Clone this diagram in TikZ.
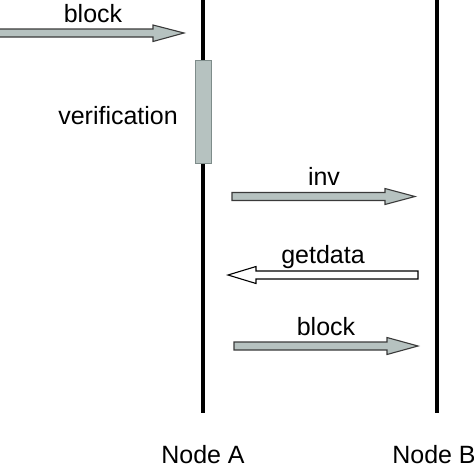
\documentclass[tikz,border=0pt]{standalone}
\usepackage{fontspec}
\setmainfont{Liberation Sans}
\definecolor{arrfill}{HTML}{B6C2C0}
\definecolor{arredge}{HTML}{3A3A3A}
\definecolor{boxedge}{HTML}{7E8C8A}
\begin{document}
\begin{tikzpicture}[x=1pt,y=-1pt,
  lbl/.style={inner sep=0pt,anchor=base,font=\fontsize{25}{30}\selectfont},
  lifeline/.style={line width=3.6pt,black},
  fatarrow/.style={draw=arredge,line width=1.1pt,fill=arrfill,line join=miter},
  hollowarrow/.style={draw=black,line width=1.1pt,fill=white,line join=miter}]
\useasboundingbox (0,0) rectangle (474,464);
% lifelines
\coordinate (Atop) at (203,0); \coordinate (Abot) at (203,413);
\coordinate (Btop) at (437,0); \coordinate (Bbot) at (437,413);
\draw[lifeline] (Atop) -- (Abot);
\draw[lifeline] (Btop) -- (Bbot);
% verification box
\node[draw=boxedge,line width=1pt,fill=arrfill,minimum width=16pt,minimum height=103pt,inner sep=0pt] (ver) at (203.5,111.5) {};
\node[lbl,anchor=base east] (verlbl) at (178,124) {verification};
% top block arrow
\draw[fatarrow] (-3,29) -- (153,29) -- (153,25) -- (184,33) -- (153,41.5) -- (153,37) -- (-3,37) -- cycle;
\node[lbl] (blk1) at (93,22) {block};
% inv arrow
\draw[fatarrow] (232,192.5) -- (385,192.5) -- (385,188.5) -- (415,196.5) -- (385,204.5) -- (385,200.5) -- (232,200.5) -- cycle;
\node[lbl] (inv) at (324,185) {inv};
% getdata arrow
\draw[hollowarrow] (418,271) -- (256,271) -- (256,266.5) -- (228,275) -- (256,283.5) -- (256,279) -- (418,279) -- cycle;
\node[lbl] (gd) at (323,263) {getdata};
% block arrow 2
\draw[fatarrow] (234,342) -- (387,342) -- (387,337.5) -- (418,346) -- (387,354.5) -- (387,350) -- (234,350) -- cycle;
\node[lbl] (blk2) at (326,335) {block};
% node labels
\node[lbl] (na) at (203,463) {Node A};
\node[lbl] (nb) at (434,463) {Node B};
\end{tikzpicture}
\end{document}
